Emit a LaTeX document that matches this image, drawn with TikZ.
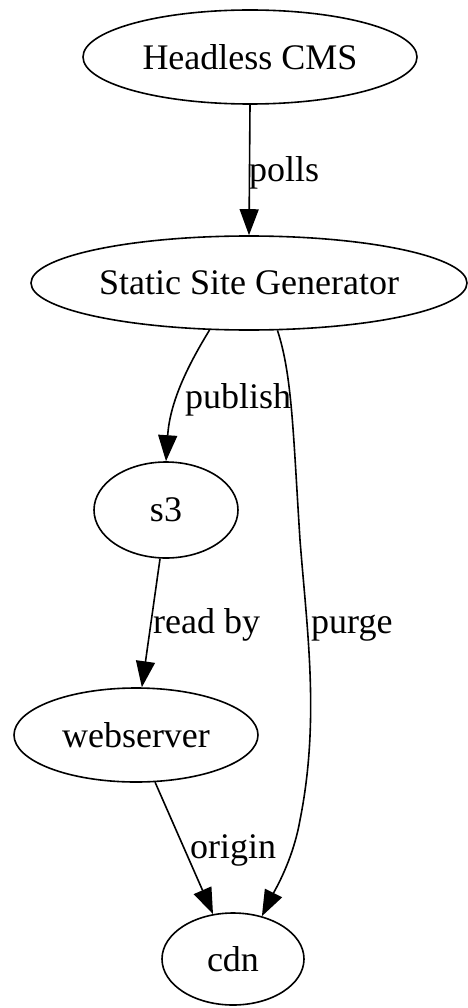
\documentclass[tikz,border=0pt]{standalone}
\usepackage{fontspec}
\setmainfont{Liberation Serif}
\usetikzlibrary{arrows.meta,shapes.geometric}
\begin{document}
\begin{tikzpicture}[x=1pt,y=-1pt,
  box/.style={draw, ellipse, line width=1.6pt, inner sep=0pt, font=\fontsize{36}{40}\selectfont},
  edge/.style={line width=1.6pt, -{Triangle[length=26pt,width=19pt]}},
  lbl/.style={anchor=base west, inner sep=0pt, font=\fontsize{36}{40}\selectfont}]
\useasboundingbox (0,0) rectangle (467,1008);
\node[box, minimum width=334pt, minimum height=94pt] (cms) at (250,57) {Headless CMS};
\node[box, minimum width=436pt, minimum height=94pt] (ssg) at (249,283) {Static Site Generator};
\node[box, minimum width=144pt, minimum height=96pt] (s3) at (166,510) {s3};
\node[box, minimum width=244pt, minimum height=94pt] (web) at (136,735) {webserver};
\node[box, minimum width=142pt, minimum height=92pt] (cdn) at (233,959) {cdn};

\draw[edge] (cms.south) -- (ssg.north);
\node[lbl] (lpolls) at (249,182) {polls};

\draw[edge] (ssg.-130) .. controls (190,362) and (170,400) .. (s3.north);
\node[lbl] (lpublish) at (185,408) {publish};

\draw[edge] (ssg.-59) .. controls (292,375) and (293,430) .. (300,540)
  .. controls (307,630) and (320,720) .. (300,820)
  .. controls (293,860) and (275,890) .. (cdn.56);
\node[lbl] (lpurge) at (311,633) {purge};

\draw[edge] (s3.-97) -- (web.83);
\node[lbl] (lread) at (153,633) {read by};

\draw[edge] (web.-68) -- (cdn.114);
\node[lbl] (lorigin) at (190,858) {origin};
\end{tikzpicture}
\end{document}
